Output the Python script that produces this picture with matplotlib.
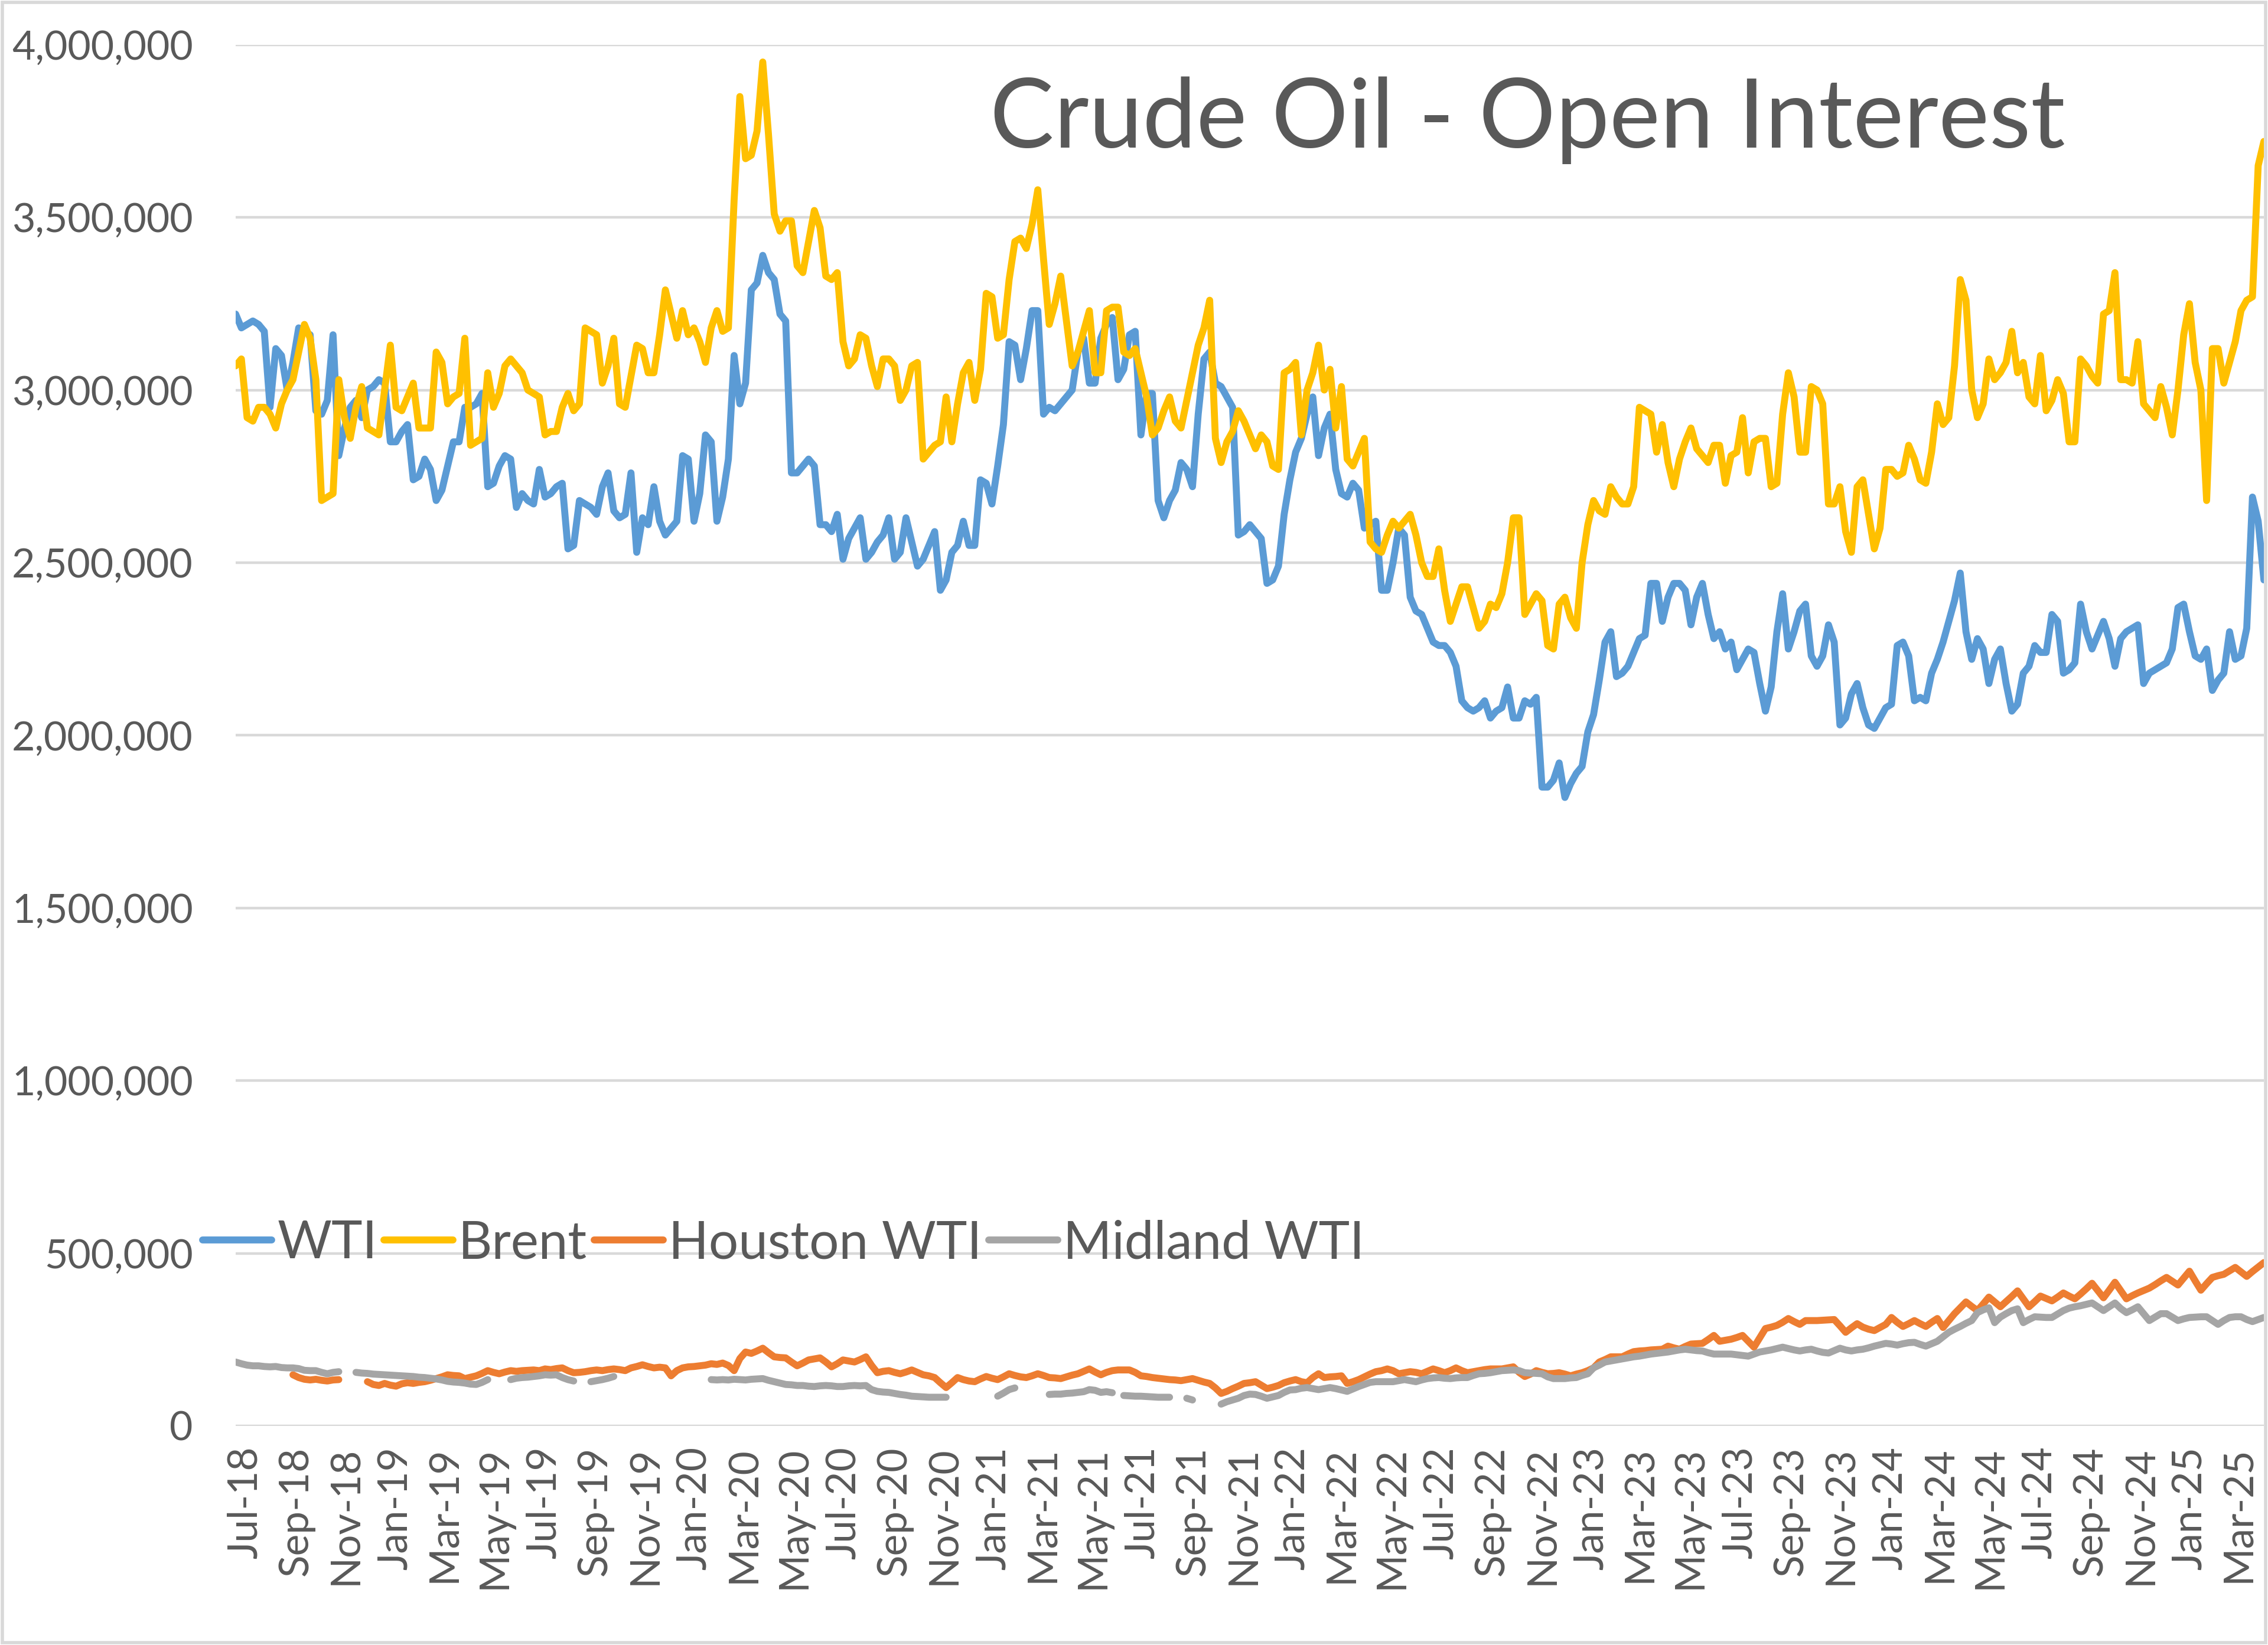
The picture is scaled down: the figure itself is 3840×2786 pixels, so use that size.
import numpy as np
import pandas as pd
import matplotlib
matplotlib.use('Agg')
import matplotlib.pyplot as plt
from matplotlib.patches import Rectangle
from matplotlib.ticker import FuncFormatter

plt.rcParams['font.family'] = ['Lato', 'DejaVu Sans']

# weekly COT report dates (Tuesdays)
weeks = pd.date_range('2018-06-19', '2025-04-01', freq='W-TUE')
N = None

# open interest, thousands of contracts
wti = [
    3220, 3180, 3190, 3200, 3190, 3170, 2950, 3120, 3100, 3000,
    3080, 3180, 3170, 3160, 2940, 2930, 2970, 3160, 2810, 2890,
    2950, 2970, 2920, 3000, 3010, 3030, 3020, 2850, 2850, 2880,
    2900, 2740, 2750, 2800, 2770, 2680, 2710, 2780, 2850, 2850,
    2950, 2950, 2960, 2990, 2720, 2730, 2780, 2810, 2800, 2660,
    2700, 2680, 2670, 2770, 2690, 2700, 2720, 2730, 2540, 2550,
    2680, 2670, 2660, 2640, 2720, 2760, 2650, 2630, 2640, 2760,
    2530, 2630, 2610, 2720, 2620, 2580, 2600, 2620, 2810, 2800,
    2620, 2700, 2870, 2850, 2620, 2690, 2800, 3100, 2960, 3020,
    3290, 3310, 3390, 3340, 3320, 3220, 3200, 2760, 2760, 2780,
    2800, 2780, 2610, 2610, 2590, 2640, 2510, 2570, 2600, 2630,
    2510, 2530, 2560, 2580, 2630, 2510, 2530, 2630, 2560, 2490,
    2510, 2550, 2590, 2420, 2450, 2530, 2550, 2620, 2550, 2550,
    2740, 2730, 2670, 2780, 2900, 3140, 3130, 3030, 3120, 3230,
    3230, 2930, 2950, 2940, 2960, 2980, 3000, 3110, 3150, 3020,
    3020, 3150, 3190, 3210, 3030, 3060, 3160, 3170, 2870, 2990,
    2990, 2680, 2630, 2680, 2710, 2790, 2770, 2720, 2930, 3090,
    3110, 3020, 3010, 2980, 2950, 2580, 2590, 2610, 2590, 2570,
    2440, 2450, 2490, 2640, 2740, 2820, 2860, 2930, 2980, 2810,
    2890, 2930, 2770, 2700, 2690, 2730, 2710, 2600, 2610, 2620,
    2420, 2420, 2500, 2600, 2580, 2400, 2360, 2350, 2310, 2270,
    2260, 2260, 2240, 2200, 2100, 2080, 2070, 2080, 2100, 2050,
    2070, 2080, 2140, 2050, 2050, 2100, 2090, 2110, 1850, 1850,
    1870, 1920, 1820, 1860, 1890, 1910, 2010, 2060, 2160, 2270,
    2300, 2170, 2180, 2200, 2240, 2280, 2290, 2440, 2440, 2330,
    2400, 2440, 2440, 2420, 2320, 2400, 2440, 2350, 2280, 2300,
    2250, 2270, 2190, 2220, 2250, 2240, 2150, 2070, 2140, 2300,
    2410, 2250, 2300, 2360, 2380, 2230, 2200, 2230, 2320, 2270,
    2030, 2050, 2120, 2150, 2080, 2030, 2020, 2050, 2080, 2090,
    2260, 2270, 2230, 2100, 2110, 2100, 2180, 2220, 2270, 2330,
    2390, 2470, 2300, 2220, 2280, 2250, 2150, 2220, 2250, 2150,
    2070, 2090, 2180, 2200, 2260, 2240, 2240, 2350, 2330, 2180,
    2190, 2210, 2380, 2300, 2250, 2290, 2330, 2280, 2200, 2280,
    2300, 2310, 2320, 2150, 2180, 2190, 2200, 2210, 2250, 2370,
    2380, 2300, 2230, 2220, 2250, 2130, 2160, 2180, 2300, 2220,
    2230, 2310, 2690, 2620, 2450,
]

brent = [
    3070, 3090, 2920, 2910, 2950, 2950, 2930, 2890, 2960, 3000,
    3030, 3110, 3190, 3150, 3030, 2680, 2690, 2700, 3030, 2920,
    2860, 2950, 3010, 2890, 2880, 2870, 3000, 3130, 2950, 2940,
    2980, 3020, 2890, 2890, 2890, 3110, 3080, 2960, 2980, 2990,
    3150, 2840, 2850, 2860, 3050, 2950, 2990, 3070, 3090, 3070,
    3050, 3000, 2990, 2980, 2870, 2880, 2880, 2950, 2990, 2940,
    2960, 3180, 3170, 3160, 3020, 3070, 3150, 2960, 2950, 3040,
    3130, 3120, 3050, 3050, 3160, 3290, 3220, 3150, 3230, 3160,
    3180, 3140, 3080, 3180, 3230, 3170, 3180, 3550, 3850, 3670,
    3680, 3750, 3950, 3740, 3510, 3460, 3490, 3490, 3360, 3340,
    3430, 3520, 3470, 3330, 3320, 3340, 3140, 3070, 3090, 3160,
    3150, 3070, 3010, 3090, 3090, 3070, 2970, 3000, 3070, 3080,
    2800, 2820, 2840, 2850, 2980, 2850, 2960, 3050, 3080, 2970,
    3060, 3280, 3270, 3150, 3160, 3320, 3430, 3440, 3410, 3480,
    3580, 3380, 3190, 3250, 3330, 3200, 3070, 3110, 3170, 3230,
    3050, 3050, 3230, 3240, 3240, 3110, 3100, 3120, 3050, 2980,
    2870, 2890, 2940, 2980, 2910, 2890, 2970, 3050, 3130, 3180,
    3260, 2860, 2790, 2850, 2880, 2940, 2910, 2870, 2830, 2870,
    2850, 2780, 2770, 3050, 3060, 3080, 2870, 3000, 3050, 3130,
    3000, 3060, 2890, 3010, 2800, 2780, 2820, 2860, 2560, 2540,
    2530, 2580, 2620, 2600, 2620, 2640, 2580, 2500, 2460, 2460,
    2540, 2420, 2330, 2380, 2430, 2430, 2370, 2310, 2330, 2380,
    2370, 2410, 2500, 2630, 2630, 2350, 2380, 2410, 2390, 2260,
    2250, 2380, 2400, 2340, 2310, 2500, 2610, 2680, 2650, 2640,
    2720, 2690, 2670, 2670, 2720, 2950, 2940, 2930, 2820, 2900,
    2790, 2720, 2800, 2850, 2890, 2830, 2810, 2790, 2840, 2840,
    2730, 2810, 2820, 2920, 2760, 2850, 2860, 2860, 2720, 2730,
    2930, 3050, 2980, 2820, 2820, 3010, 3000, 2960, 2670, 2670,
    2720, 2590, 2530, 2720, 2740, 2640, 2540, 2600, 2770, 2770,
    2750, 2760, 2840, 2800, 2740, 2730, 2820, 2960, 2900, 2920,
    3070, 3320, 3260, 3000, 2920, 2960, 3090, 3030, 3050, 3080,
    3170, 3050, 3080, 2980, 2960, 3100, 2940, 2970, 3030, 2990,
    2850, 2850, 3090, 3070, 3040, 3020, 3220, 3230, 3340, 3030,
    3030, 3020, 3140, 2960, 2940, 2920, 3010, 2950, 2870, 3000,
    3160, 3250, 3080, 3000, 2680, 3120, 3120, 3020, 3080, 3140,
    3230, 3260, 3270, 3650, 3720,
]

houston = [
    N, N, N, N, N, N, N, N, N, N,
    148, 140, 135, 133, 135, 132, 130, 133, 134, N,
    N, N, N, 128, 120, 117, 123, 118, 115, 122,
    125, 123, 126, 128, 132, 137, 142, 148, 146, 145,
    137, 141, 145, 152, 160, 155, 151, 156, 160, 158,
    160, 161, 162, 160, 165, 163, 166, 168, 160, 154,
    155, 157, 160, 162, 160, 163, 165, 163, 160, 168,
    172, 177, 172, 168, 170, 168, 145, 160, 168, 171,
    172, 174, 176, 180, 178, 182, 175, 160, 195, 214,
    210, 217, 225, 212, 200, 198, 197, 185, 174, 182,
    191, 194, 197, 185, 171, 180, 191, 188, 185, 192,
    200, 175, 154, 158, 160, 155, 151, 156, 162, 155,
    148, 145, 140, 125, 111, 125, 140, 134, 130, 128,
    136, 143, 138, 134, 142, 151, 146, 142, 140, 145,
    151, 146, 140, 139, 137, 142, 147, 151, 158, 165,
    156, 148, 155, 160, 162, 162, 162, 155, 145, 143,
    140, 138, 136, 134, 133, 131, 134, 137, 132, 127,
    123, 110, 94, 100, 108, 115, 123, 125, 128, 118,
    108, 112, 117, 125, 130, 134, 128, 125, 140, 151,
    140, 142, 143, 145, 123, 128, 134, 142, 150, 157,
    160, 165, 160, 151, 154, 157, 155, 151, 158, 165,
    160, 154, 160, 168, 160, 154, 157, 160, 163, 165,
    165, 165, 168, 171, 155, 143, 150, 160, 155, 151,
    152, 154, 150, 145, 150, 154, 160, 168, 185, 192,
    200, 200, 200, 208, 215, 217, 218, 220, 221, 222,
    231, 226, 222, 230, 237, 238, 239, 250, 262, 245,
    248, 251, 256, 262, 245, 228, 255, 282, 286, 291,
    300, 311, 302, 294, 305, 305, 305, 306, 307, 308,
    290, 271, 284, 296, 286, 280, 276, 285, 294, 314,
    300, 288, 296, 305, 296, 288, 300, 311, 285, 305,
    325, 342, 359, 346, 334, 353, 373, 359, 345, 360,
    375, 391, 368, 345, 360, 376, 369, 362, 373, 385,
    376, 368, 382, 397, 413, 392, 371, 393, 416, 392,
    368, 377, 385, 392, 399, 409, 420, 430, 419, 408,
    428, 448, 420, 393, 412, 430, 435, 439, 449, 459,
    446, 433, 447, 460, 473,
]

midland = [
    185, 180, 176, 174, 174, 172, 171, 172, 169, 168,
    168, 166, 161, 160, 160, 155, 151, 155, 157, N,
    N, 155, 153, 152, 150, 149, 148, 147, 146, 145,
    144, 143, 141, 140, 138, 136, 133, 129, 127, 126,
    124, 121, 120, 126, 134, N, N, N, 134, 138,
    140, 141, 143, 145, 148, 147, 148, 140, 134, 130,
    N, N, 128, 131, 134, 138, 143, N, N, N,
    N, N, N, N, N, N, N, N, N, N,
    N, N, N, 134, 133, 134, 133, 135, 134, 133,
    135, 136, 137, 132, 128, 124, 120, 119, 117, 117,
    115, 114, 116, 117, 116, 114, 114, 116, 117, 116,
    117, 105, 100, 98, 97, 94, 91, 89, 86, 85,
    84, 83, 83, 83, 83, N, N, N, N, N,
    N, N, N, 86, 95, 105, 110, N, N, N,
    N, N, 91, 92, 92, 94, 95, 97, 99, 105,
    103, 97, 99, 96, N, 88, 87, 86, 86, 85,
    84, 83, 83, 83, N, N, 80, 75, N, N,
    N, N, 63, 70, 75, 80, 88, 92, 91, 86,
    80, 84, 88, 97, 104, 105, 109, 111, 108, 105,
    108, 111, 108, 104, 100, 107, 114, 120, 126, 128,
    128, 128, 128, 131, 134, 131, 128, 133, 137, 139,
    140, 138, 137, 139, 140, 140, 146, 151, 152, 154,
    157, 160, 161, 162, 160, 154, 153, 152, 151, 142,
    137, 137, 137, 139, 140, 146, 151, 168, 176, 185,
    188, 191, 194, 197, 200, 202, 205, 208, 210, 212,
    214, 217, 220, 222, 220, 218, 217, 212, 208, 208,
    208, 208, 206, 204, 202, 208, 214, 217, 220, 224,
    228, 224, 220, 217, 220, 222, 217, 213, 211, 218,
    225, 220, 217, 220, 222, 226, 231, 235, 239, 237,
    234, 238, 241, 242, 236, 231, 238, 245, 258, 271,
    280, 288, 297, 305, 328, 336, 342, 299, 315, 325,
    334, 339, 299, 308, 316, 315, 314, 314, 324, 334,
    341, 345, 348, 352, 356, 345, 334, 345, 356, 340,
    328, 336, 345, 325, 305, 315, 325, 325, 315, 305,
    310, 314, 315, 316, 316, 305, 294, 305, 314, 316,
    316, 308, 302, 308, 314,
]

series = [('WTI', wti, '#5B9BD5'), ('Brent', brent, '#FFC000'),
          ('Houston WTI', houston, '#ED7D31'), ('Midland WTI', midland, '#A5A5A5')]

tick_dates = pd.date_range('2018-07-01', '2025-03-01', freq='2MS')
tick_labels = [d.strftime('%b-%y') for d in tick_dates]

txt = '#595959'

fig = plt.figure(figsize=(38.4, 27.86), dpi=100)
ax = fig.add_axes([0.1039, 0.1332, 0.8943, 0.8396])

handles = []
for name, vals, col in series:
    y = np.array(vals, dtype=float) * 1000
    h, = ax.plot(weeks, y, color=col, lw=8.5, label=name,
                 solid_joinstyle='round', solid_capstyle='round')
    handles.append(h)

ax.set_xlim(weeks[0], weeks[-1])
ax.set_ylim(0, 4000000)
ax.set_yticks(np.arange(0, 4000001, 500000))
ax.yaxis.set_major_formatter(FuncFormatter(lambda v, p: f'{v:,.0f}'))
ax.set_xticks(tick_dates)
ax.set_xticklabels(tick_labels, rotation=90)
ax.grid(axis='y', color='#d9d9d9', lw=3.2)
ax.set_axisbelow(True)
for s in ax.spines.values():
    s.set_visible(False)
ax.tick_params(axis='y', length=0, pad=52, labelsize=49, labelcolor=txt)
ax.tick_params(axis='x', length=0, pad=25, labelsize=50, labelcolor=txt)

fig.text(2586 / 3840, 1 - 250 / 2786, 'Crude Oil - Open Interest', ha='center',
         va='baseline', fontsize=117, color=txt)

fig.legend(handles=handles, loc='center left', bbox_to_anchor=(343 / 3840, 1 - 2106 / 2786),
           ncol=4, frameon=False, fontsize=64, handlelength=1.32, handletextpad=0.1,
           columnspacing=0.13, borderpad=0, borderaxespad=0, labelcolor=txt)

fig.patches.append(Rectangle((0.001, 0.0015), 0.998, 0.997, transform=fig.transFigure,
                             fill=False, edgecolor='#d9d9d9', lw=4))

fig.savefig('out.png', dpi=100)
